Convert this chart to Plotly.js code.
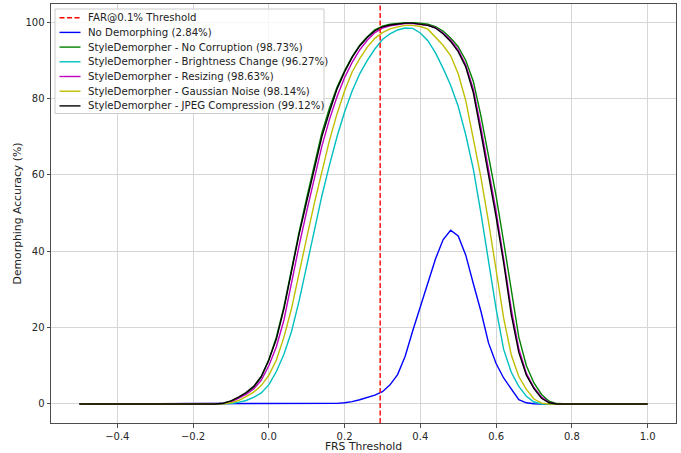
<!DOCTYPE html>
<html>
<head>
<meta charset="utf-8">
<script src="https://cdn.plot.ly/plotly-3.0.1.min.js"></script>
<style>html,body{margin:0;padding:0;background:#fff;}#chart{width:681px;height:453px;}</style>
</head>
<body>
<div id="chart"></div>
<script>
// ---- data ----
const thresholds = [-0.5, -0.14, -0.12, -0.10, -0.08, -0.06, -0.04, -0.02, 0.00, 0.02, 0.04, 0.06, 0.08, 0.10, 0.12, 0.14,
  0.16, 0.18, 0.20, 0.22, 0.24, 0.26, 0.28, 0.30, 0.32, 0.34, 0.36, 0.38, 0.40, 0.42, 0.44, 0.46,
  0.48, 0.50, 0.52, 0.54, 0.56, 0.58, 0.60, 0.62, 0.64, 0.66, 0.68, 0.70, 0.72, 0.74, 0.76, 0.78, 0.80, 1.0];

const noDemorphing = [0, 0, 0, 0, 0, 0, 0, 0, 0, 0, 0, 0, 0, 0, 0, 0,
  0.05, 0.15, 0.3, 0.6, 1.1, 1.6, 2.3, 3.2, 5.0, 7.7, 12.5, 19.2, 25.5, 32, 38, 43,
  45.5, 44, 39, 31.5, 24.3, 16, 10.6, 6.8, 3.8, 1.1, 0.3, 0.05, 0, 0, 0, 0, 0, 0];

const noCorruption = [0, 0, 0.2, 0.7, 1.6, 2.8, 4.3, 7, 11.5, 17.5, 25.5, 35.5, 45, 54, 62.5, 71,
  77.5, 83, 87.3, 91, 94, 96.2, 98, 99, 99.5, 99.7, 99.9, 99.9, 99.8, 99.5, 98.9, 97.7,
  95.9, 93.6, 90, 84.5, 75.5, 65, 54.5, 42.5, 30, 17.5, 10, 5.5, 2.5, 0.7, 0.1, 0, 0, 0];

const brightnessChange = [0, 0, 0, 0.1, 0.4, 0.9, 1.7, 2.9, 5, 8.5, 13, 19, 27, 36, 45.5, 54.5,
  62.5, 70, 76.5, 82, 86.5, 90, 93, 95.5, 97, 98, 98.5, 98.4, 97.2, 95.2, 92, 88,
  83.5, 78, 70.5, 61.5, 50, 38, 25, 14.3, 8.3, 4.6, 2, 0.5, 0, 0, 0, 0, 0, 0];

const resizing = [0, 0, 0.1, 0.5, 1.4, 2.5, 3.9, 6.2, 10, 15, 22, 32, 41.5, 50.5, 59, 67.5,
  74.5, 80.5, 85.5, 89.5, 92.8, 95.3, 97.3, 98.5, 99.1, 99.5, 99.7, 99.7, 99.5, 99.2, 98.6, 97.2,
  95.4, 92.8, 88.8, 82.5, 72.5, 62, 50.5, 38, 25, 14.5, 8, 4.3, 1.8, 0.4, 0, 0, 0, 0];

const gaussianNoise = [0, 0, 0.05, 0.3, 0.9, 1.9, 3.1, 4.8, 7.5, 11.5, 17.5, 25, 34.5, 43.5, 52.5, 61,
  69, 76, 82, 87, 90.5, 93.5, 95.8, 97.3, 98.3, 98.8, 99.2, 99.2, 98.9, 98.2, 96.2, 94,
  91.3, 86.5, 79.5, 69.5, 59.4, 47.8, 35.7, 22.5, 12.9, 7.2, 3.8, 1.3, 0.2, 0, 0, 0, 0, 0];

const jpegCompression = [0, 0, 0.2, 0.8, 1.8, 3.0, 4.6, 7.2, 11.5, 17, 25, 35, 44.5, 53, 61.5, 70,
  76.5, 82.5, 87, 90.8, 93.8, 96, 97.8, 98.8, 99.3, 99.6, 99.8, 99.8, 99.6, 99.2, 98.5, 97,
  95, 92.3, 88.3, 81.5, 71, 60.5, 49, 37, 23.5, 13.5, 7.5, 4, 1.5, 0.3, 0, 0, 0, 0];

const farThreshold = 0.294;

const seriesNames = [
  'FAR@0.1% Threshold',
  'No Demorphing (2.84%)',
  'StyleDemorpher - No Corruption (98.73%)',
  'StyleDemorpher - Brightness Change (96.27%)',
  'StyleDemorpher - Resizing (98.63%)',
  'StyleDemorpher - Gaussian Noise (98.14%)',
  'StyleDemorpher - JPEG Compression (99.12%)'
];
const seriesColors = ['#ff0000', '#0000ff', '#008000', '#00bfbf', '#bf00bf', '#bfbf00', '#000000'];
const seriesValues = [null, noDemorphing, noCorruption, brightnessChange, resizing, gaussianNoise, jpegCompression];

const xTicks = [-0.4, -0.2, 0.0, 0.2, 0.4, 0.6, 0.8, 1.0];
const yTicks = [0, 20, 40, 60, 80, 100];

// ---- traces ----
const traces = [];
for (let i = 1; i < seriesNames.length; i++) {
  traces.push({
    type: 'scatter', mode: 'lines',
    x: thresholds, y: seriesValues[i],
    name: seriesNames[i],
    line: {color: seriesColors[i], width: 1.4},
    hoverinfo: 'skip'
  });
}

// ---- layout geometry (plot area in px) ----
const W = 681, H = 453;
const mL = 51, mR = 5, mT = 4, mB = 30;
const pw = W - mL - mR, ph = H - mT - mB;
const px = v => (v - mL) / pw;          // pixel -> paper x
const py = v => (H - mB - v) / ph;      // pixel -> paper y

const shapes = [
  { type: 'line', xref: 'x', yref: 'paper', x0: farThreshold, x1: farThreshold, y0: 0, y1: 1,
    line: {color: seriesColors[0], width: 1.4, dash: '5px,2.5px'}, layer: 'above' },
  // legend frame
  { type: 'rect', xref: 'paper', yref: 'paper', x0: px(55), x1: px(324), y0: py(113.5), y1: py(9),
    fillcolor: 'rgba(255,255,255,0.8)', line: {color: '#cccccc', width: 1}, layer: 'above' }
];
const annotations = [];
const rowY = [17.7, 32.4, 47.1, 61.8, 76.5, 91.2, 105.9];
for (let i = 0; i < seriesNames.length; i++) {
  shapes.push({ type: 'line', xref: 'paper', yref: 'paper', x0: px(59.5), x1: px(80.5), y0: py(rowY[i]), y1: py(rowY[i]),
    line: {color: seriesColors[i], width: 1.4, dash: i === 0 ? '5px,2.5px' : 'solid'}, layer: 'above' });
  annotations.push({ xref: 'paper', yref: 'paper', x: px(85.5), y: py(rowY[i]), xanchor: 'left', yanchor: 'middle',
    text: seriesNames[i], showarrow: false, font: {family: 'DejaVu Sans', size: 10.2, color: '#222'} });
}

const axisCommon = {
  showline: true, mirror: true, linecolor: '#4d4d4d', linewidth: 1,
  ticks: 'outside', ticklen: 3.5, tickwidth: 1, tickcolor: '#4d4d4d',
  showgrid: true, gridcolor: '#d6d6d6', gridwidth: 1, zeroline: false,
  tickfont: {family: 'DejaVu Sans', size: 10, color: '#262626'}
};

const layout = {
  width: W, height: H,
  margin: {l: mL, r: mR, t: mT, b: mB},
  paper_bgcolor: '#ffffff', plot_bgcolor: '#ffffff',
  font: {family: 'DejaVu Sans', size: 10, color: '#262626'},
  showlegend: false,
  xaxis: Object.assign({}, axisCommon, {
    range: [-0.575, 1.075], tickmode: 'array', tickvals: xTicks, tickformat: '.1f',
    title: {text: 'FRS Threshold', font: {family: 'DejaVu Sans', size: 10.8, color: '#222'}, standoff: 2}
  }),
  yaxis: Object.assign({}, axisCommon, {
    range: [-4.99, 104.8], tickmode: 'array', tickvals: yTicks,
    title: {text: 'Demorphing Accuracy (%)', font: {family: 'DejaVu Sans', size: 10.8, color: '#222'}, standoff: 1}
  }),
  shapes: shapes,
  annotations: annotations
};

Plotly.newPlot('chart', traces, layout, {displayModeBar: false, staticPlot: true});
</script>
</body>
</html>
